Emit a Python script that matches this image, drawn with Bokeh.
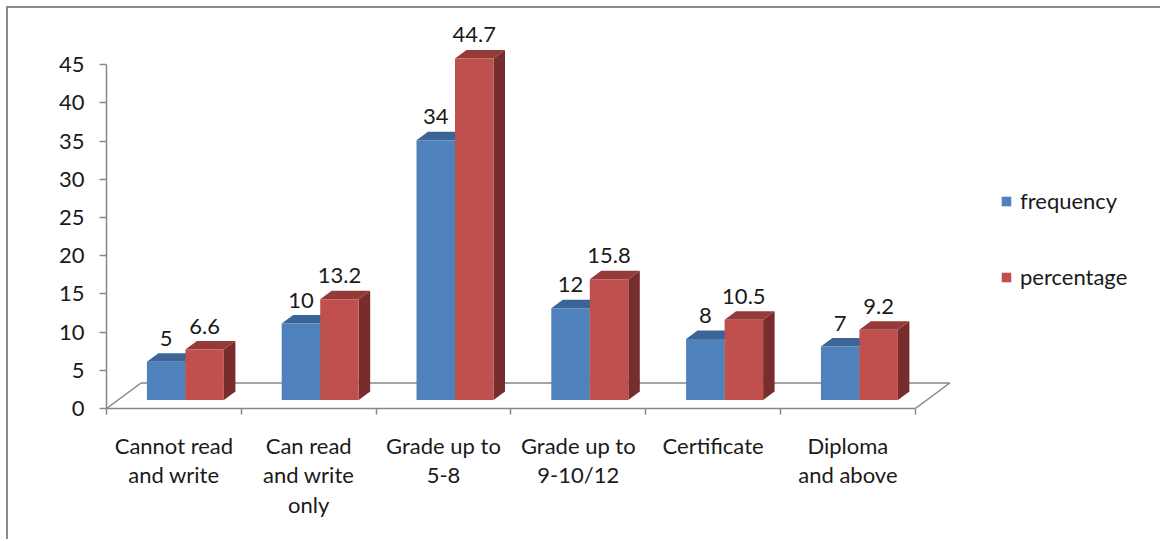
from bokeh.plotting import figure
from bokeh.models import (Range1d, LinearAxis, FixedTicker, Legend, LegendItem,
                          ColumnDataSource)
from bokeh.core.properties import value
from bokeh.embed import file_html
from bokeh.resources import INLINE

# ---- data ----
categories = ["Cannot read\nand write", "Can read\nand write\nonly", "Grade up to\n5-8",
              "Grade up to\n9-10/12", "Certificate", "Diploma\nand above"]
frequency = [5, 10, 34, 12, 8, 7]
percentage = [6.6, 13.2, 44.7, 15.8, 10.5, 9.2]
freq_labels = ["5", "10", "34", "12", "8", "7"]
pct_labels = ["6.6", "13.2", "44.7", "15.8", "10.5", "9.2"]
y_ticks = [0, 5, 10, 15, 20, 25, 30, 35, 40, 45]

# ---- geometry (pixels -> data units) ----
W, H = 1154, 533
LEFT, BOTTOM = 98, 133
SX = 134.8          # px per category
SY = 7.64           # px per value unit
frame_w = W - LEFT
frame_h = H - BOTTOM
DDX = 11.5 / SX     # bar depth in x
DDY = 8.5 / SY      # bar depth in y
BW = 38.5 / SX      # bar width
LBL = 15.0 / SY     # label gap

FONT = value("Lato")
FS = "22px"
GRAY = "#878787"

p = figure(width=W, height=H, output_backend="svg", toolbar_location=None,
           x_range=Range1d(0, frame_w / SX), y_range=Range1d(0, frame_h / SY),
           x_axis_type=None, y_axis_type=None,
           min_border_left=LEFT, min_border_bottom=BOTTOM,
           min_border_top=0, min_border_right=0)
p.outline_line_color = None
p.grid.visible = False
p.styles = {"margin-left": "6px", "margin-top": "6px",
            "border-left": "2px solid #8a8a8a", "border-top": "2px solid #8a8a8a"}

n = len(categories)

# y axis
yax = LinearAxis(ticker=FixedTicker(ticks=y_ticks, minor_ticks=[]), bounds=(0, 45))
yax.axis_line_color = GRAY
yax.axis_line_width = 1.5
yax.major_tick_line_color = GRAY
yax.major_tick_line_width = 1.5
yax.major_tick_out = 7
yax.major_tick_in = 0
yax.minor_tick_line_color = None
yax.major_label_standoff = 15
yax.major_label_text_font = "Lato"
yax.major_label_text_font_size = FS
yax.major_label_text_color = "#1a1a1a"
p.add_layout(yax, "left")

# x axis (front floor edge)
centers = [i + 0.5 for i in range(n)]
xax = LinearAxis(ticker=FixedTicker(ticks=centers, minor_ticks=list(range(n + 1))),
                 bounds=(0, n))
xax.major_label_overrides = {c: lab for c, lab in zip(centers, categories)}
xax.axis_line_color = GRAY
xax.axis_line_width = 1.5
xax.major_tick_line_color = None
xax.major_tick_out = 0
xax.major_tick_in = 0
xax.minor_tick_line_color = GRAY
xax.minor_tick_line_width = 1.5
xax.minor_tick_out = 6
xax.minor_tick_in = 0
xax.major_label_standoff = 17
xax.major_label_text_font = "Lato"
xax.major_label_text_font_size = FS
xax.major_label_text_color = "#1a1a1a"
xax.major_label_text_line_height = 1.1
p.add_layout(xax, "below")

# floor outline (left, back, right edges)
fd_x, fd_y = 3 * DDX, 3 * DDY
p.line([0, fd_x, n + fd_x, n], [0, fd_y, fd_y, 0], line_color=GRAY, line_width=1.5)

def faces(vals, offset):
    fx0 = [c + offset + DDX for c in centers]
    fx1 = [x + BW for x in fx0]
    front = dict(left=fx0, right=fx1, bottom=[DDY] * n, top=[DDY + v for v in vals])
    top_xs = [[a, b, b + DDX, a + DDX] for a, b in zip(fx0, fx1)]
    top_ys = [[DDY + v, DDY + v, 2 * DDY + v, 2 * DDY + v] for v in vals]
    side_xs = [[b, b + DDX, b + DDX, b] for b in fx1]
    side_ys = [[DDY, 2 * DDY, 2 * DDY + v, DDY + v] for v in vals]
    return front, (top_xs, top_ys), (side_xs, side_ys), fx0

series = [
    (frequency, freq_labels, -BW, "#4F81BD", "#3B6597", "#2F5178"),
    (percentage, pct_labels, 0.0, "#C0504D", "#943B39", "#772D2B"),
]
front_renderers = []
for vals, labs, off, cf, ct, cs in series:
    front, (txs, tys), (sxs, sys_), fx0 = faces(vals, off)
    p.patches(sxs, sys_, fill_color=cs, line_color=None)
    p.patches(txs, tys, fill_color=ct, line_color=None)
    r = p.quad(source=ColumnDataSource(front), left="left", right="right",
               bottom="bottom", top="top", fill_color=cf, line_color=None)
    front_renderers.append(r)
    p.text(x=[x + BW / 2 for x in fx0], y=[2 * DDY + v + LBL for v in vals], text=labs,
           text_font=FONT, text_font_size=FS, text_color="#1a1a1a",
           text_align="center", text_baseline="middle")

legend = Legend(items=[LegendItem(label="frequency", renderers=[front_renderers[0]]),
                       LegendItem(label="percentage", renderers=[front_renderers[1]])],
                location=(894, 118), orientation="vertical")
legend.glyph_width = 12
legend.glyph_height = 12
legend.label_height = 24
legend.spacing = 49
legend.padding = 0
legend.margin = 0
legend.label_standoff = 8
legend.border_line_color = None
legend.background_fill_alpha = 0
legend.label_text_font = "Lato"
legend.label_text_font_size = FS
legend.label_text_color = "#1a1a1a"
p.add_layout(legend)

open("out.html", "w").write(file_html(p, INLINE))
